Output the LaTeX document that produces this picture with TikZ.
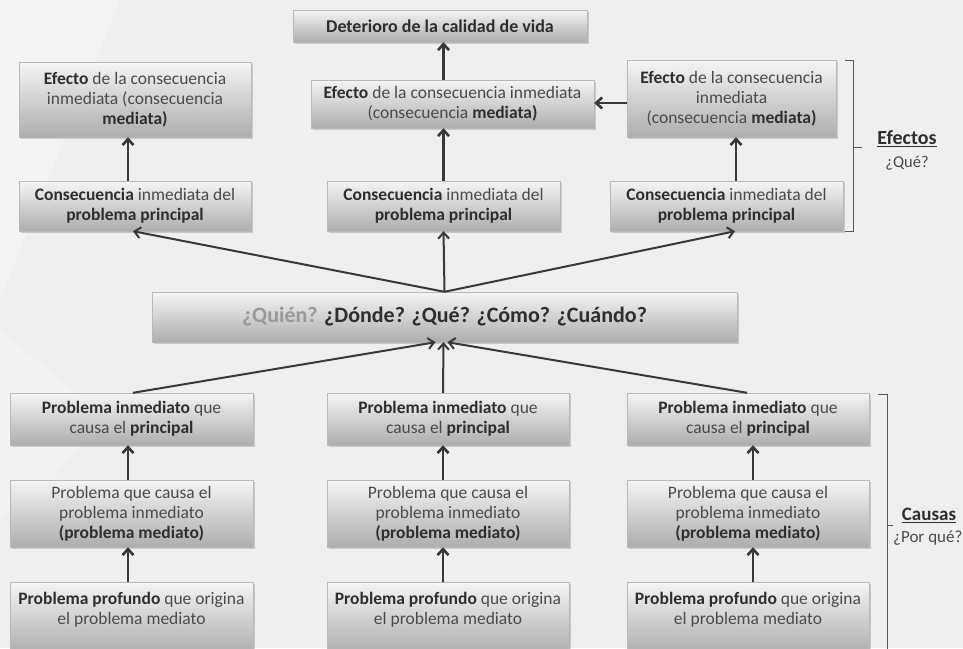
\documentclass[tikz,border=0pt]{standalone}
\usepackage{fontspec}
\setmainfont{Carlito}
\usetikzlibrary{shadows,arrows.meta}
\definecolor{bgc}{HTML}{EFEFEF}
\definecolor{txt}{HTML}{4A4A4A}
\definecolor{txtb}{HTML}{2E2E2E}
\definecolor{arrc}{HTML}{383838}
\definecolor{brc}{HTML}{555555}
\newcommand{\bb}[1]{\textbf{\color{txtb}#1}}
\begin{document}
\begin{tikzpicture}[x=1pt,y=1pt,
  box/.style={shade, top color=white!96!black, bottom color=black!32,
    draw=black!28, line width=0.4pt,
    drop shadow={shadow xshift=1.6pt, shadow yshift=-1.8pt, opacity=0.35},
    inner sep=0pt, align=center, text=txt,
    font=\fontsize{17.5}{20}\selectfont},
  arr/.style={draw=arrc, line width=2.6pt, -{Straight Barb[length=6pt,width=11pt]}},
  darr/.style={draw=arrc, line width=2pt, -{Straight Barb[length=6pt,width=11pt]}},
  brk/.style={draw=brc, line width=0.9pt},
  lbl/.style={inner sep=0pt, text=txtb}
]
\clip (0,0) rectangle (963,-648);
\fill[bgc] (0,0) rectangle (963,-648);
\fill[white, opacity=0.35] (0,0) -- (120,0) -- (20,-250) -- (0,-300) -- cycle;
\fill[white, opacity=0.25] (0,-330) -- (110,-420) -- (0,-520) -- cycle;

% effects
\node[box, minimum width=294pt, minimum height=32pt, font=\fontsize{18}{20}\selectfont] (det) at (440,-26)
  {\bb{Deterioro de la calidad de vida}};
\node[box, minimum width=232pt, minimum height=75pt] (effL) at (135,-99.5)
  {\bb{Efecto} de la consecuencia\\ inmediata (consecuencia\\ \bb{mediata)}};
\node[box, minimum width=283pt, minimum height=48pt] (effM) at (452.5,-104)
  {\bb{Efecto} de la consecuencia inmediata\\ (consecuencia \bb{mediata)}};
\node[box, minimum width=209pt, minimum height=77pt] (effR) at (731.5,-98.5)
  {\bb{Efecto} de la consecuencia\\ inmediata\\ (consecuencia \bb{mediata)}};
\node[box, minimum width=232pt, minimum height=50pt] (consL) at (135,-206)
  {\bb{Consecuencia} inmediata del\\ \bb{problema principal}};
\node[box, minimum width=233pt, minimum height=50pt] (consM) at (443.5,-206)
  {\bb{Consecuencia} inmediata del\\ \bb{problema principal}};
\node[box, minimum width=233pt, minimum height=50pt] (consR) at (726.5,-206)
  {\bb{Consecuencia} inmediata del\\ \bb{problema principal}};

% central
\node[box, minimum width=585pt, minimum height=50pt, font=\fontsize{22}{24}\selectfont\bfseries, text=txtb] (cen) at (444.5,-317)
  {{\color{black!40}¿Quién?} ¿Dónde? ¿Qué? ¿Cómo? ¿Cuándo?};

% causes
\foreach \c/\x/\w in {L/131.5/243, M/448/242, R/748/242}{
  \node[box, minimum width=\w pt, minimum height=52pt] (ca1\c) at (\x,-419)
    {\bb{Problema inmediato} que\\ causa el \bb{principal}};
  \node[box, minimum width=\w pt, minimum height=67pt] (ca2\c) at (\x,-513.5)
    {Problema que causa el\\ problema inmediato\\ \bb{(problema mediato)}};
  \node[box, minimum width=\w pt, minimum height=72pt] (ca3\c) at (\x,-618)
    {\bb{Problema profundo} que origina\\ el problema mediato\\ \mbox{}};
}

% arrows effects
\draw[arr] (effM.north -| consM.north) -- (det.south -| consM.north);
\draw[arr] (consM.north) -- (effM.south -| consM.north);
\draw[arr] ([xshift=-7pt]consL.north) -- ([xshift=-7pt]effL.south);
\draw[arr] ([xshift=9.5pt]consR.north) -- ([xshift=4.5pt]effR.south);
\draw[arr] (effR.west |- 0,-103) -- (effM.east |- 0,-103);

% diagonals
\draw[darr] (cen.north) -- ([xshift=-2pt]consL.south);
\draw[darr] (cen.north) -- ([xshift=8.5pt]consR.south);
\draw[darr] (cen.north) -- (consM.south);
\draw[darr] ([xshift=1.5pt]ca1L.north) -- ([xshift=-9pt]cen.south);
\draw[darr] ([xshift=-5pt]ca1M.north) -- ([xshift=-1pt]cen.south);
\draw[darr] ([xshift=-1pt]ca1R.north) -- ([xshift=3pt]cen.south);

% cause arrows
\draw[arr] ([xshift=-3.5pt]ca2L.north) -- ([xshift=-3.5pt]ca1L.south);
\draw[arr] ([xshift=-3.5pt]ca3L.north) -- ([xshift=-3.5pt]ca2L.south);
\draw[arr] ([xshift=-5pt]ca2M.north) -- ([xshift=-5pt]ca1M.south);
\draw[arr] ([xshift=-5pt]ca3M.north) -- ([xshift=-5pt]ca2M.south);
\draw[arr] ([xshift=5pt]ca2R.north) -- ([xshift=5pt]ca1R.south);
\draw[arr] ([xshift=5pt]ca3R.north) -- ([xshift=5pt]ca2R.south);

% brackets
\draw[brk] (845,-60) -- (853,-60) -- (853,-231) -- (845,-231);
\draw[brk] (853,-147) -- (862,-147);
\draw[brk] (878,-394) -- (887,-394) -- (887,-660);
\draw[brk] (887,-525) -- (893,-525);

\node[lbl, font=\fontsize{20}{22}\selectfont\bfseries] (efx) at (907,-139) {\underline{Efectos}};
\node[lbl, font=\fontsize{16.5}{19}\selectfont, text=txt] (que) at (907,-163) {¿Qué?};
\node[lbl, font=\fontsize{19}{22}\selectfont\bfseries] (cau) at (929,-515) {\underline{Causas}};
\node[lbl, font=\fontsize{17}{19}\selectfont, text=txt, anchor=west] (porq) at (893,-538) {¿Por qué?};
\end{tikzpicture}
\end{document}
